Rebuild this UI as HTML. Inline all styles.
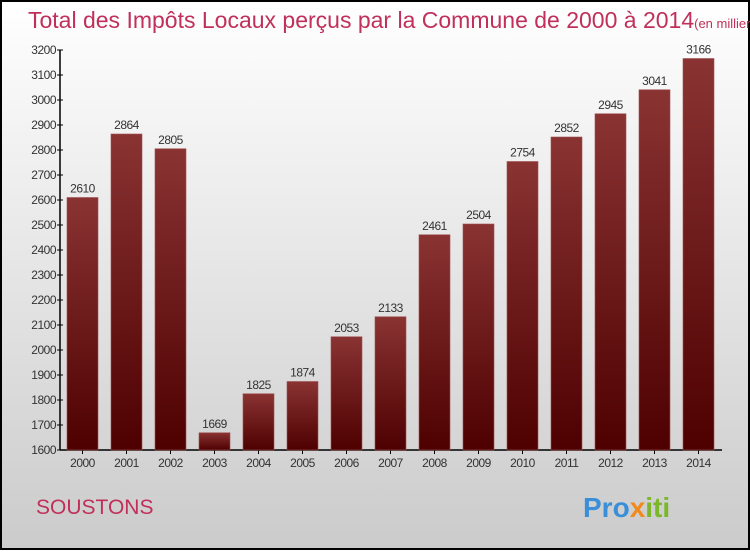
<!DOCTYPE html>
<html><head><meta charset="utf-8"><style>
body{margin:0;}
#c{width:750px;height:550px;position:relative;font-family:"Liberation Sans",sans-serif;}
</style></head><body>
<div id="c">
<svg id="s" width="750" height="550" xmlns="http://www.w3.org/2000/svg">
<defs>
<linearGradient id="bg" x1="0" y1="0" x2="0" y2="1"><stop offset="0" stop-color="#ffffff"/><stop offset="1" stop-color="#cbcbcb"/></linearGradient>
<linearGradient id="bar" x1="0" y1="0" x2="0" y2="1"><stop offset="0" stop-color="#8a3333"/><stop offset="1" stop-color="#4e0000"/></linearGradient>
</defs>
<rect x="1" y="1" width="748" height="548" fill="url(#bg)" stroke="#000" stroke-width="2"/>
<text x="28" y="28" font-size="23" fill="#c0305a">Total des Impôts Locaux perçus par la Commune de 2000 à 2014<tspan font-size="13">(en milliers d'€)</tspan></text>
<text x="36" y="514" font-size="21" fill="#c0305a">SOUSTONS</text>
<g font-size="28" font-weight="bold">
<text x="583" y="517"><tspan fill="#3a8fd8">Pro</tspan><tspan fill="#f08a1c">x</tspan><tspan fill="#7ab828">iti</tspan></text>
</g>
<g id="axes"></g>
<g id="bars"></g>
</svg>
</div>
<script>
const years=["2000","2001","2002","2003","2004","2005","2006","2007","2008","2009","2010","2011","2012","2013","2014"];
const values=[2610,2864,2805,1669,1825,1874,2053,2133,2461,2504,2754,2852,2945,3041,3166];
const yTicks=[1600,1700,1800,1900,2000,2100,2200,2300,2400,2500,2600,2700,2800,2900,3000,3100,3200];
const ns="http://www.w3.org/2000/svg";
const y0=450,y1=50,vmin=1600,vmax=3200;
function yS(v){return y0-(v-vmin)/(vmax-vmin)*(y0-y1);}
function xS(i){return 82.5+i*44;}
const ax=document.getElementById('axes'),bg=document.getElementById('bars');
function mk(t,a,p){const e=document.createElementNS(ns,t);for(const k in a)e.setAttribute(k,a[k]);p.appendChild(e);return e;}
let l=mk('line',{x1:60,y1:y1,x2:60,y2:y0,stroke:'#000','stroke-width':1.5},ax);


l=mk('line',{x1:60,y1:y0,x2:722,y2:y0,stroke:'#000','stroke-width':1.5},ax);


yTicks.forEach(v=>{
 const t=mk('line',{x1:57,x2:63,y1:yS(v),y2:yS(v),stroke:'#000'},ax);
 
 
 const tx=mk('text',{x:56,y:yS(v)+4,'text-anchor':'end','font-size':12,fill:'#333','letter-spacing':'-0.5'},ax);
 tx.textContent=v;
 
 
});
years.forEach((yr,i)=>{
 const x=xS(i);
 const t=mk('line',{x1:x,x2:x,y1:y0,y2:y0+4,stroke:'#000'},ax);
 
 
 const tx=mk('text',{x:x,y:467,'text-anchor':'middle','font-size':12,fill:'#333','letter-spacing':'-0.5'},ax);
 tx.textContent=yr;
 
 
 const v=values[i];
 const r=mk('rect',{x:x-15.5,y:yS(v),width:31,height:y0-yS(v),fill:'url(#bar)',stroke:'#a05050','stroke-width':0.6},bg);
 
 
 const vl=mk('text',{x:x,y:yS(v)-5,'text-anchor':'middle','font-size':12,fill:'#333','letter-spacing':'-0.5'},bg);
 vl.textContent=v;
 
 
});
</script>
</body></html>
